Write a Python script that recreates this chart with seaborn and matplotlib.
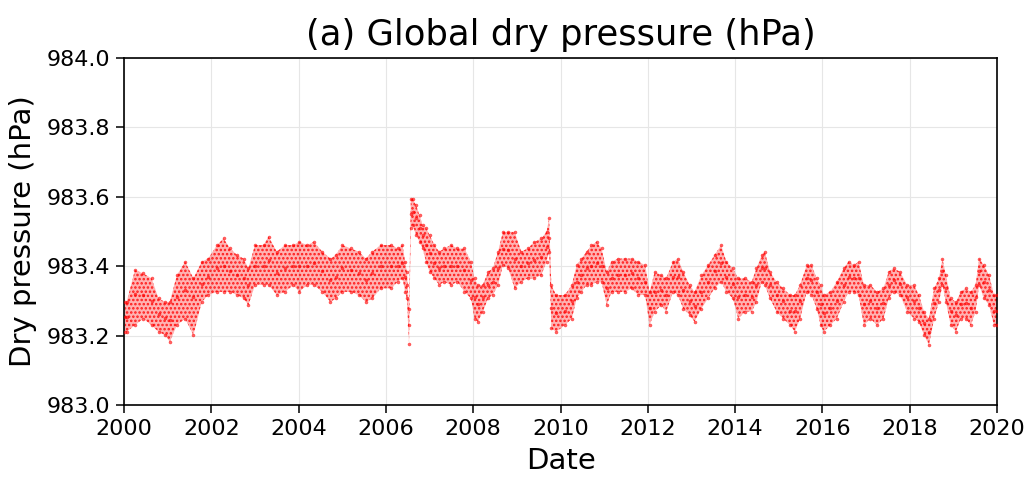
import numpy as np
import pandas as pd
import matplotlib
matplotlib.use("Agg")
import matplotlib.pyplot as plt
import seaborn as sns

# Decimal year, lower edge, centre, upper edge of the point cloud (hPa)
dates = [2000.02, 2000.06, 2000.25, 2000.44, 2000.63, 2000.79, 2000.94, 2001.05, 2001.21, 2001.40,
         2001.59, 2001.78, 2001.93, 2002.13, 2002.28, 2002.43, 2002.59, 2002.74, 2002.85, 2003.00,
         2003.20, 2003.31, 2003.50, 2003.69, 2003.88, 2004.01, 2004.20, 2004.35, 2004.54, 2004.73,
         2004.85, 2005.00, 2005.19, 2005.38, 2005.54, 2005.69, 2005.88, 2006.12, 2006.27, 2006.38,
         2006.44, 2006.48, 2006.53, 2006.57, 2006.61, 2006.69, 2006.77, 2006.84, 2006.92, 2007.00,
         2007.11, 2007.22, 2007.34, 2007.49, 2007.64, 2007.80, 2007.95, 2008.03, 2008.11, 2008.22,
         2008.34, 2008.45, 2008.57, 2008.68, 2008.80, 2008.95, 2009.10, 2009.25, 2009.40, 2009.56,
         2009.68, 2009.74, 2009.79, 2009.90, 2010.10, 2010.26, 2010.37, 2010.48, 2010.60, 2010.71,
         2010.83, 2010.94, 2011.06, 2011.17, 2011.32, 2011.48, 2011.63, 2011.78, 2011.94, 2012.04,
         2012.16, 2012.31, 2012.42, 2012.58, 2012.69, 2012.81, 2012.96, 2013.07, 2013.23, 2013.38,
         2013.53, 2013.68, 2013.80, 2013.95, 2014.07, 2014.23, 2014.38, 2014.49, 2014.61, 2014.68,
         2014.80, 2014.95, 2015.10, 2015.26, 2015.37, 2015.49, 2015.64, 2015.75, 2015.87, 2015.96,
         2016.03, 2016.18, 2016.33, 2016.49, 2016.60, 2016.72, 2016.83, 2016.95, 2017.10, 2017.25,
         2017.40, 2017.52, 2017.63, 2017.78, 2017.94, 2018.10, 2018.21, 2018.33, 2018.44, 2018.56,
         2018.67, 2018.75, 2018.83, 2018.94, 2019.06, 2019.17, 2019.28, 2019.40, 2019.51, 2019.59,
         2019.70, 2019.82, 2019.93, 2020.00]

low = [983.211, 983.211, 983.230, 983.249, 983.230, 983.211, 983.201, 983.182, 983.230, 983.249,
       983.201, 983.297, 983.317, 983.326, 983.326, 983.326, 983.317, 983.307, 983.288, 983.346,
       983.346, 983.346, 983.317, 983.326, 983.346, 983.326, 983.346, 983.346, 983.326, 983.297,
       983.307, 983.326, 983.326, 983.317, 983.297, 983.307, 983.336, 983.336, 983.355, 983.365,
       983.326, 983.307, 983.177, 983.509, 983.519, 983.490, 983.470, 983.451, 983.413, 983.384,
       983.365, 983.346, 983.355, 983.346, 983.355, 983.326, 983.307, 983.249, 983.240, 983.269,
       983.307, 983.317, 983.346, 983.403, 983.394, 983.336, 983.355, 983.365, 983.365, 983.374,
       983.413, 983.442, 983.221, 983.211, 983.230, 983.249, 983.307, 983.326, 983.346, 983.346,
       983.355, 983.355, 983.288, 983.326, 983.326, 983.326, 983.336, 983.317, 983.317, 983.230,
       983.269, 983.288, 983.269, 983.326, 983.317, 983.278, 983.259, 983.240, 983.278, 983.307,
       983.336, 983.355, 983.326, 983.307, 983.249, 983.269, 983.269, 983.297, 983.355, 983.346,
       983.307, 983.269, 983.249, 983.230, 983.211, 983.249, 983.326, 983.317, 983.278, 983.230,
       983.211, 983.230, 983.249, 983.297, 983.326, 983.326, 983.317, 983.230, 983.249, 983.230,
       983.249, 983.307, 983.326, 983.317, 983.269, 983.249, 983.240, 983.201, 983.173, 983.249,
       983.297, 983.346, 983.297, 983.230, 983.211, 983.249, 983.249, 983.230, 983.269, 983.346,
       983.307, 983.288, 983.230, 983.230]

mid = [983.255, 983.255, 983.320, 983.317, 983.300, 983.262, 983.250, 983.245, 983.310, 983.330,
       983.310, 983.350, 983.370, 983.394, 983.400, 983.385, 983.375, 983.365, 983.346, 983.400,
       983.400, 983.418, 983.380, 983.394, 983.400, 983.400, 983.400, 983.410, 983.385, 983.360,
       983.370, 983.394, 983.390, 983.380, 983.360, 983.380, 983.400, 983.400, 983.400, 983.410,
       983.370, 983.346, 983.230, 983.550, 983.557, 983.540, 983.510, 983.490, 983.460, 983.437,
       983.410, 983.394, 983.400, 983.400, 983.400, 983.390, 983.360, 983.310, 983.290, 983.310,
       983.346, 983.355, 983.394, 983.450, 983.447, 983.420, 983.400, 983.410, 983.418, 983.427,
       983.456, 983.480, 983.280, 983.265, 983.270, 983.300, 983.355, 983.375, 983.394, 983.400,
       983.410, 983.400, 983.336, 983.365, 983.375, 983.375, 983.380, 983.365, 983.355, 983.280,
       983.327, 983.330, 983.317, 983.370, 983.370, 983.330, 983.300, 983.285, 983.327, 983.355,
       983.385, 983.410, 983.370, 983.350, 983.310, 983.317, 983.310, 983.346, 983.394, 983.394,
       983.346, 983.317, 983.300, 983.270, 983.270, 983.300, 983.365, 983.360, 983.327, 983.290,
       983.265, 983.280, 983.300, 983.346, 983.370, 983.365, 983.365, 983.290, 983.300, 983.280,
       983.295, 983.346, 983.360, 983.350, 983.310, 983.300, 983.280, 983.235, 983.210, 983.295,
       983.330, 983.385, 983.336, 983.270, 983.260, 983.290, 983.295, 983.280, 983.310, 983.385,
       983.355, 983.330, 983.270, 983.270]

high = [983.297, 983.297, 983.389, 983.379, 983.365, 983.307, 983.297, 983.297, 983.374, 983.413,
        983.365, 983.413, 983.422, 983.461, 983.480, 983.451, 983.432, 983.422, 983.394, 983.461,
        983.461, 983.485, 983.442, 983.461, 983.461, 983.470, 983.461, 983.470, 983.442, 983.422,
        983.432, 983.461, 983.451, 983.442, 983.422, 983.442, 983.461, 983.461, 983.451, 983.461,
        983.413, 983.384, 983.278, 983.595, 983.595, 983.576, 983.547, 983.519, 983.509, 983.490,
        983.461, 983.442, 983.451, 983.461, 983.451, 983.451, 983.413, 983.365, 983.346, 983.346,
        983.384, 983.394, 983.442, 983.499, 983.499, 983.499, 983.442, 983.451, 983.470, 983.480,
        983.499, 983.538, 983.346, 983.317, 983.317, 983.346, 983.403, 983.422, 983.442, 983.461,
        983.470, 983.451, 983.384, 983.413, 983.422, 983.422, 983.422, 983.413, 983.403, 983.326,
        983.384, 983.374, 983.365, 983.413, 983.422, 983.384, 983.346, 983.326, 983.374, 983.403,
        983.432, 983.461, 983.413, 983.394, 983.365, 983.365, 983.355, 983.394, 983.432, 983.442,
        983.384, 983.355, 983.336, 983.317, 983.317, 983.346, 983.403, 983.403, 983.365, 983.346,
        983.317, 983.326, 983.355, 983.394, 983.413, 983.403, 983.413, 983.346, 983.346, 983.326,
        983.336, 983.384, 983.394, 983.384, 983.346, 983.346, 983.317, 983.269, 983.249, 983.336,
        983.365, 983.422, 983.374, 983.307, 983.297, 983.326, 983.336, 983.326, 983.346, 983.422,
        983.403, 983.374, 983.317, 983.317]

yticks = [983.0, 983.2, 983.4, 983.6, 983.8, 984.0]
xticks = [2000, 2002, 2004, 2006, 2008, 2010, 2012, 2014, 2016, 2018, 2020]

df = pd.DataFrame({"date": dates, "low": low, "mid": mid, "high": high})
long = df.melt(id_vars="date", value_vars=["low", "mid", "high"], var_name="edge", value_name="p")

sns.set_theme(style="ticks")
plt.rcParams["font.family"] = ["DejaVu Sans"]
plt.rcParams["text.color"] = "black"
plt.rcParams["axes.labelcolor"] = "black"
plt.rcParams["xtick.color"] = "black"
plt.rcParams["ytick.color"] = "black"
plt.rcParams["hatch.linewidth"] = 1.2

fig = plt.figure(figsize=(10.31, 4.78), dpi=100)
ax = fig.add_axes([0.1203, 0.1527, 0.8467, 0.726])

ax.fill_between(df["date"], df["low"], df["high"], facecolor=(1, 0, 0, 0.3),
                edgecolor=(1, 0, 0, 0.85), hatch="....", linewidth=0, zorder=2)
sns.scatterplot(data=long, x="date", y="p", ax=ax, color="red", s=5, alpha=0.6,
                edgecolor="red", linewidth=0.3, legend=False, zorder=3)

ax.set_xlim(2000, 2020)
ax.set_ylim(983.0, 984.0)
ax.set_xticks(xticks)
ax.set_xticklabels([str(x) for x in xticks])
ax.set_yticks(yticks)
ax.set_yticklabels([f"{y:.1f}" for y in yticks])
ax.grid(True, color="#e6e6e6", linewidth=0.8, zorder=0)
ax.set_axisbelow(True)
for s in ax.spines.values():
    s.set_color("black")
    s.set_linewidth(1.2)
ax.tick_params(axis="both", labelsize=16, length=6, width=1.1, color="black",
               labelcolor="black", direction="out", pad=4)
ax.set_xlabel("Date", fontsize=21, color="black", labelpad=6)
ax.set_ylabel("Dry pressure (hPa)", fontsize=21, color="black", labelpad=7)
ax.set_title("(a) Global dry pressure (hPa)", fontsize=25.5, color="black", pad=9)

fig.savefig("out.png", dpi=100)
